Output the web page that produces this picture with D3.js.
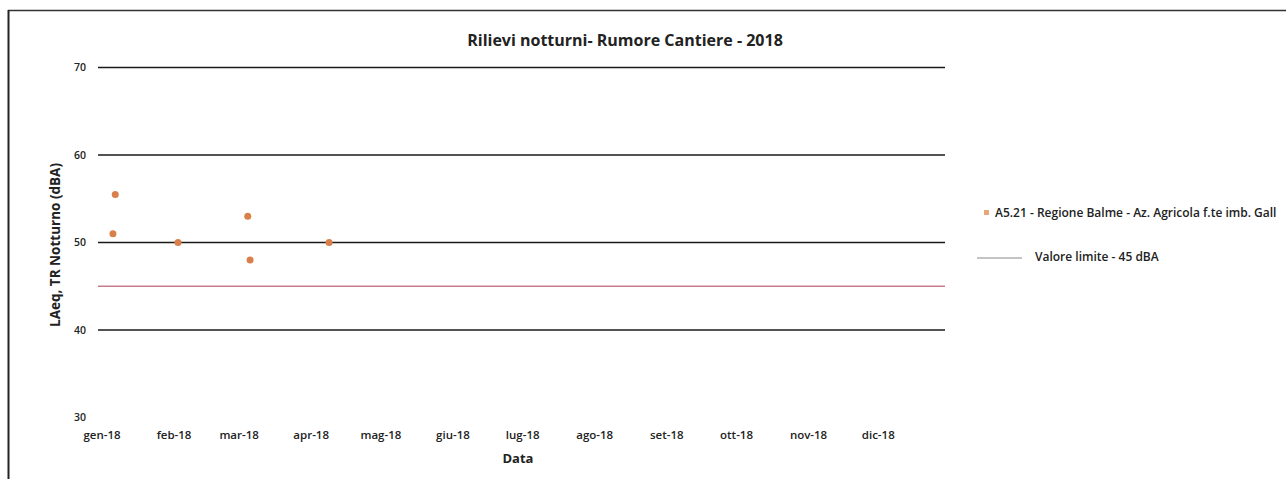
<!DOCTYPE html>
<html>
<head>
<meta charset="utf-8">
<script src="https://cdn.jsdelivr.net/npm/d3@7"></script>
<style>
  body { margin: 0; background: #fff; }
  text { font-family: "Open Sans", "Liberation Sans", sans-serif; fill: #222; }
</style>
</head>
<body>
<div id="chart"></div>
<script>
// data
const measureDates = ["2018-01-07", "2018-01-08", "2018-02-04", "2018-03-06", "2018-03-07", "2018-04-10"];
const measureValues = [51, 55.5, 50, 53, 48, 50];
const limitValue = 45;
const yTicks = [30, 40, 50, 60, 70];
const monthLabels = ["gen-18", "feb-18", "mar-18", "apr-18", "mag-18", "giu-18",
                     "lug-18", "ago-18", "set-18", "ott-18", "nov-18", "dic-18"];
const seriesName = "A5.21 - Regione Balme - Az. Agricola f.te imb. Gall";
const limitName = "Valore limite - 45 dBA";

const W = 1286, H = 479;
const parse = d3.timeParse("%Y-%m-%d");

const svg = d3.select("#chart").append("svg")
  .attr("width", W)
  .attr("height", H);

// outer frame (top and left visible)
svg.append("line").attr("x1", 8).attr("x2", W).attr("y1", 10.5).attr("y2", 10.5)
  .attr("stroke", "#333").attr("stroke-width", 1.5);
svg.append("line").attr("x1", 8.5).attr("x2", 8.5).attr("y1", 10).attr("y2", H)
  .attr("stroke", "#222").attr("stroke-width", 2);

let x = d3.scaleTime()
  .domain([parse("2018-01-01"), parse("2018-12-31")])
  .range([99, 945]);

let y = d3.scaleLinear()
  .domain([30, 70])
  .range([417.5, 67.5]);

// gridlines (Excel style, no axis line at 30)
svg.append("g")
  .selectAll("line")
  .data(yTicks.filter(d => d > 30))
  .join("line")
    .attr("x1", 98)
    .attr("x2", x.range()[1])
    .attr("y1", d => y(d))
    .attr("y2", d => y(d))
    .attr("stroke", "#1a1a1a")
    .attr("stroke-width", 1.6);

// y tick labels
svg.append("g")
  .selectAll("text")
  .data(yTicks)
  .join("text")
    .attr("x", 86)
    .attr("y", d => y(d))
    .attr("dy", "0.35em")
    .attr("text-anchor", "end")
    .style("font-size", "10.5px")
    .style("font-weight", "600")
    .text(d => d);

// x tick labels at the start of each month
const months = d3.timeMonth.range(parse("2018-01-01"), parse("2018-12-31"));
svg.append("g")
  .selectAll("text")
  .data(months)
  .join("text")
    .attr("x", d => x(d) + 3)
    .attr("y", 435)
    .attr("dy", "0.35em")
    .attr("text-anchor", "middle")
    .style("font-size", "11.5px")
    .style("font-weight", "600")
    .text((d, i) => monthLabels[i]);

// limit line
svg.append("line")
  .attr("x1", 98)
  .attr("x2", x.range()[1])
  .attr("y1", y(limitValue))
  .attr("y2", y(limitValue))
  .attr("stroke", "#c77d8c")
  .attr("stroke-width", 1.6);

// measurement points
const points = measureDates.map((d, i) => ({ date: parse(d), value: measureValues[i] }));
svg.append("g")
  .selectAll("circle")
  .data(points)
  .join("circle")
    .attr("cx", d => x(d.date))
    .attr("cy", d => y(d.value))
    .attr("r", 3.5)
    .attr("fill", "#d9804a");

// title
svg.append("text")
  .attr("x", 625)
  .attr("y", 40)
  .attr("dy", "0.35em")
  .attr("text-anchor", "middle")
  .style("font-size", "16px")
  .style("font-weight", "bold")
  .text("Rilievi notturni- Rumore Cantiere - 2018");

// axis titles
svg.append("text")
  .attr("x", 518)
  .attr("y", 458)
  .attr("dy", "0.35em")
  .attr("text-anchor", "middle")
  .style("font-size", "13px")
  .style("font-weight", "bold")
  .text("Data");

svg.append("text")
  .attr("transform", "translate(55,245) rotate(-90)")
  .attr("dy", "0.35em")
  .attr("text-anchor", "middle")
  .style("font-size", "13.5px")
  .style("font-weight", "bold")
  .text("LAeq, TR Notturno (dBA)");

// legend
const legend = svg.append("g");
legend.append("rect")
  .attr("x", 984).attr("y", 210)
  .attr("width", 5).attr("height", 5)
  .attr("fill", "#e8a67a");
legend.append("text")
  .attr("x", 995).attr("y", 213)
  .attr("dy", "0.35em")
  .style("font-size", "12px")
  .style("font-weight", "600")
  .text(seriesName);
legend.append("line")
  .attr("x1", 977).attr("x2", 1022)
  .attr("y1", 258).attr("y2", 258)
  .attr("stroke", "#888")
  .attr("stroke-width", 1);
legend.append("text")
  .attr("x", 1035).attr("y", 257)
  .attr("dy", "0.35em")
  .style("font-size", "12px")
  .style("font-weight", "600")
  .text(limitName);
</script>
</body>
</html>
